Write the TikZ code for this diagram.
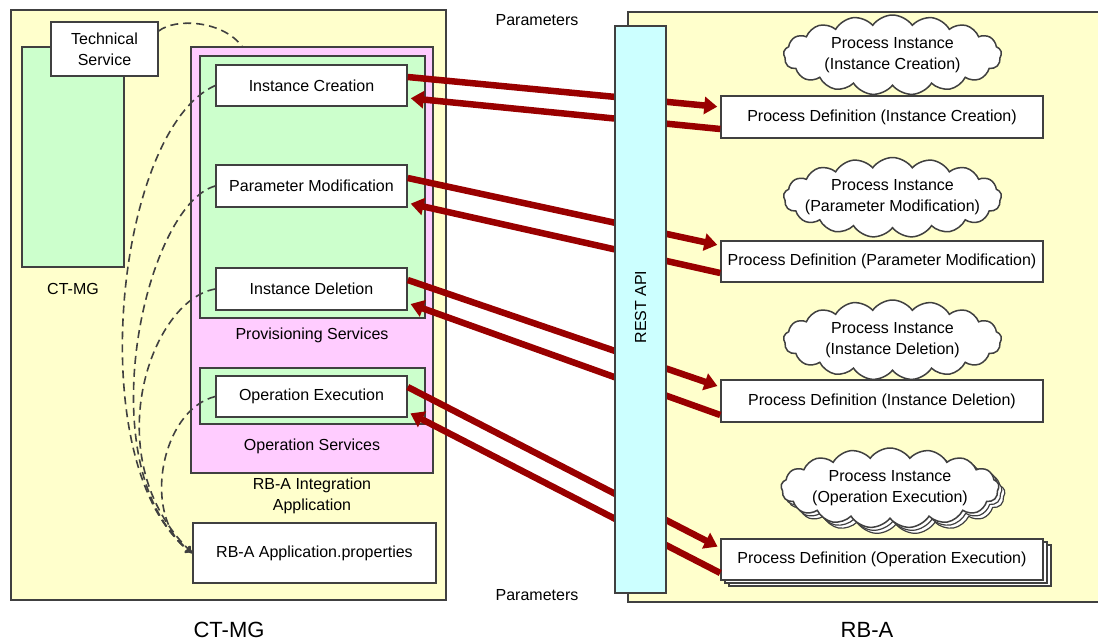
\documentclass[tikz,border=0pt]{standalone}
\usepackage{fontspec}
\setmainfont{Liberation Sans}
\usetikzlibrary{shapes.symbols,shadows,arrows.meta}

\definecolor{paleyellow}{HTML}{FFFFCC}
\definecolor{palegreen}{HTML}{CCFFCC}
\definecolor{palepink}{HTML}{FFCCFF}
\definecolor{palecyan}{HTML}{CCFFFF}
\definecolor{flowred}{HTML}{990000}
\definecolor{linegray}{HTML}{404040}

\begin{document}
\begin{tikzpicture}[x=1pt, y=-1pt,
    font=\fontsize{16}{21}\selectfont,
    area/.style={draw=linegray, line width=1.5pt, rectangle, inner sep=0pt},
    box/.style={area, fill=white},
    puff/.style={cloud, draw=linegray, line width=1.5pt, fill=white, cloud puffs=17, cloud puff arc=110,
        minimum width=218pt, minimum height=80pt, inner sep=0pt},
    title/.style={font=\fontsize{22}{26}\selectfont, anchor=base},
    flow/.style={draw=flowred, line width=6.5pt, shorten >=3pt, -{Triangle[length=13pt,width=17pt]}},
    link/.style={draw=linegray, line width=1.6pt, dash pattern=on 8pt off 5pt}
]
    \useasboundingbox (0,0) rectangle (1098,641);

    % CT-MG side
    \node[area, fill=paleyellow, minimum width=435pt, minimum height=590pt] (ctmg) at (228.5,305) {};
    \node[area, fill=palegreen, minimum width=102pt, minimum height=220pt] (core) at (73,157) {};
    \node[box, minimum width=107pt, minimum height=54pt, align=center] (tech) at (104.5,49) {Technical\\Service};
    \node (coreLabel) at (73,289) {CT-MG};

    % RB-A Integration Application
    \node[area, fill=palepink, minimum width=242pt, minimum height=426pt] (integ) at (312,260) {};
    \node[area, fill=palegreen, minimum width=225pt, minimum height=262pt] (prov) at (312.5,187) {};
    \node[box, minimum width=191pt, minimum height=41pt] (IC) at (311.5,85.5) {Instance Creation};
    \node[box, minimum width=191pt, minimum height=42pt] (PM) at (311.5,186) {Parameter Modification};
    \node[box, minimum width=191pt, minimum height=42pt] (ID) at (311.5,289) {Instance Deletion};
    \node (provLabel) at (312,335) {Provisioning Services};
    \node[area, fill=palegreen, minimum width=225pt, minimum height=56pt] (ops) at (312.5,396) {};
    \node[box, minimum width=191pt, minimum height=41pt] (OE) at (311.5,396.5) {Operation Execution};
    \node (opsLabel) at (312,446) {Operation Services};
    \node[align=center] (integLabel) at (312,496) {RB-A Integration\\Application};
    \node[box, minimum width=243pt, minimum height=60pt] (props) at (314.5,553) {RB-A Application.properties};
    \node[title] (ctmgTitle) at (229,637) {CT-MG};

    % Dashed links
    \draw[link] ([yshift=18pt]tech.east) .. controls (175,18) and (222,20) .. ([xshift=-70pt]integ.north);
    \draw[link, -{To[length=7pt,width=8pt]}] (IC.west) .. controls (115,130) and (80,470) .. (props.west);
    \draw[link, -{To[length=7pt,width=8pt]}] (PM.west) .. controls (145,205) and (85,470) .. (props.west);
    \draw[link, -{To[length=7pt,width=8pt]}] (ID.west) .. controls (150,300) and (95,460) .. (props.west);
    \draw[link, -{To[length=7pt,width=8pt]}] (OE.west) .. controls (160,410) and (140,520) .. (props.west);

    % RB-A side
    \node[area, fill=paleyellow, minimum width=480pt, minimum height=590pt] (rba) at (868,307) {};
    \node (paramTop) at (537,20) {Parameters};
    \node (paramBottom) at (537,595) {Parameters};

    \node[puff] (PI1) at (892.5,55) {};
    \node[align=center] (PI1text) at (PI1) {Process Instance\\(Instance Creation)};
    \node[box, minimum width=322pt, minimum height=42pt] (PD1) at (882,117) {Process Definition (Instance Creation)};
    \node[puff] (PI2) at (892.5,197.5) {};
    \node[align=center] (PI2text) at (PI2) {Process Instance\\(Parameter Modification)};
    \node[box, minimum width=322pt, minimum height=41pt] (PD2) at (882,261.5) {Process Definition (Parameter Modification)};
    \node[puff] (PI3) at (892.5,340) {};
    \node[align=center] (PI3text) at (PI3) {Process Instance\\(Instance Deletion)};
    \node[box, minimum width=322pt, minimum height=42pt] (PD3) at (882,401) {Process Definition (Instance Deletion)};
    \node[puff, double copy shadow={shadow xshift=3pt, shadow yshift=-3pt, draw=linegray, line width=1.2pt}] (PI4) at (890,488) {};
    \node[align=center] (PI4text) at (PI4) {Process Instance\\(Operation Execution)};
    \node[box, minimum width=322pt, minimum height=41pt, double copy shadow={shadow xshift=4pt, shadow yshift=-3pt, draw=linegray, line width=1.2pt}] (PD4) at (882,559.5) {Process Definition (Operation Execution)};
    \node[title] (rbaTitle) at (867,637) {RB-A};

    % Parameters
    \draw[flow] ([yshift=8.5pt]IC.east) -- ([yshift=10pt]PD1.west);
    \draw[flow] ([yshift=-12pt]PD1.west) -- ([yshift=-12.5pt]IC.east);
    \draw[flow] ([yshift=8pt]PM.east) -- ([yshift=16pt]PD2.west);
    \draw[flow] ([yshift=-11.5pt]PD2.west) -- ([yshift=-17pt]PM.east);
    \draw[flow] ([yshift=9pt]ID.east) -- ([yshift=14pt]PD3.west);
    \draw[flow] ([yshift=-14pt]PD3.west) -- ([yshift=-14pt]ID.east);
    \draw[flow] ([yshift=9.5pt]OE.east) -- ([yshift=11.5pt]PD4.west);
    \draw[flow] ([yshift=-13.5pt]PD4.west) -- ([yshift=-15.5pt]OE.east);

    % REST API
    \node[area, fill=palecyan, minimum width=51pt, minimum height=567pt] (rest) at (640.5,309.5) {};
    \node[rotate=90] (restLabel) at (640.5,307) {REST API};
\end{tikzpicture}
\end{document}
